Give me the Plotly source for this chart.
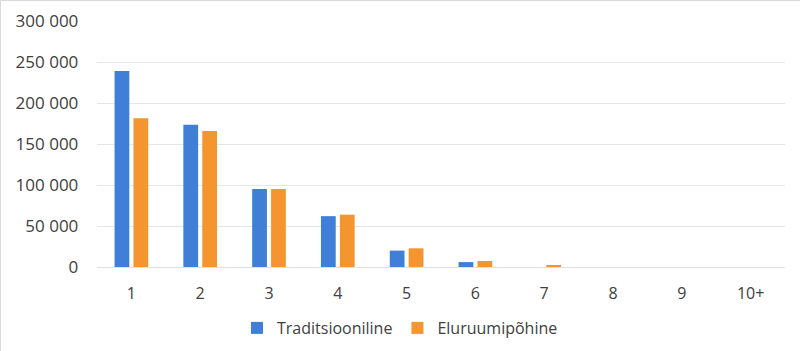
import plotly.graph_objects as go

categories = ["1", "2", "3", "4", "5", "6", "7", "8", "9", "10+"]
traditsiooniline = [239000, 173500, 95000, 62000, 20000, 6000, 0, 0, 0, 0]
eluruumipohine = [181500, 166000, 95000, 63800, 22800, 7300, 2400, 0, 0, 0]
series_names = ["Traditsiooniline", "Eluruumipõhine"]
colors = ["#3F7FD8", "#F5952F"]

fig = go.Figure()
for name, vals, c in zip(series_names, [traditsiooniline, eluruumipohine], colors):
    fig.add_trace(go.Bar(x=categories, y=vals, name=name, marker=dict(color=c, line=dict(width=0))))

# plot area: x 97..785, y 21..267 in pixels
L, R, T, B = 97, 785, 21, 267
W, H = R - L, B - T
def px(x):
    return (x - L) / W
def py(y):
    return (B - y) / H

fig.update_layout(
    width=800, height=351,
    margin=dict(l=L, r=800 - R, t=T, b=351 - B, autoexpand=False),
    paper_bgcolor="white", plot_bgcolor="white",
    barmode="group", bargap=0.45, bargroupgap=0.22,
    separators=". ",
    font=dict(family="Open Sans, Liberation Sans, sans-serif", size=15, color="#404040"),
    showlegend=True,
    legend=dict(orientation="h", xref="container", yref="container", x=0.5, xanchor="center",
                y=1 - 328 / 351, yanchor="middle", bgcolor="rgba(0,0,0,0)",
                font=dict(size=16, color="#404040"), itemwidth=30, traceorder="normal"),
    xaxis=dict(showgrid=False, showline=True, linecolor="#E0E0E0", linewidth=1,
               ticks="", tickfont=dict(size=16), ticklabelstandoff=12, automargin=False),
    yaxis=dict(range=[0, 300000], dtick=50000, tickformat=",d", showgrid=True,
               gridcolor="#E6E6E6", gridwidth=1, zeroline=False, ticks="",
               ticksuffix="    ", tickfont=dict(size=17), automargin=False),
    shapes=[
        dict(type="line", xref="paper", yref="paper", x0=px(0.5), x1=px(800), y0=py(0.5), y1=py(0.5),
             line=dict(color="#D9D9D9", width=1)),
        dict(type="line", xref="paper", yref="paper", x0=px(0.5), x1=px(0.5), y0=py(0.5), y1=py(351),
             line=dict(color="#D9D9D9", width=1)),
    ],
)

fig.write_html("out.html")
